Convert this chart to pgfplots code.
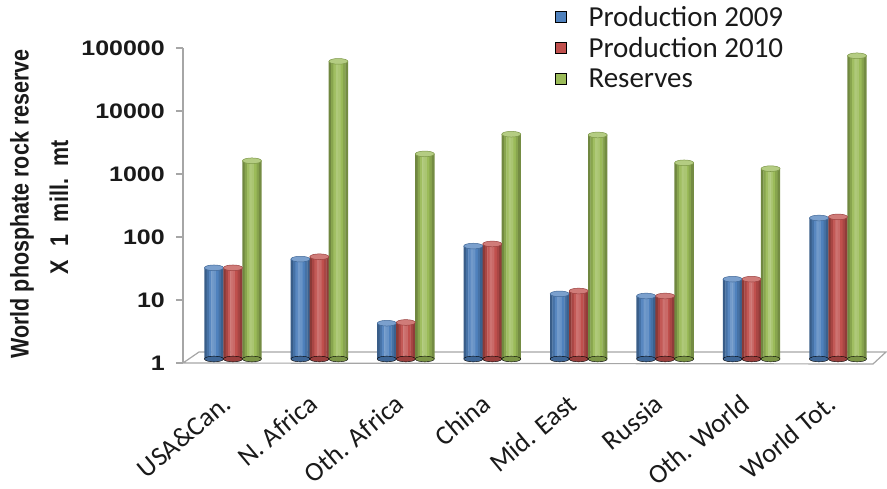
\documentclass[border=0pt]{standalone}
\usepackage{pgfplots}
\pgfplotsset{compat=1.18}
\usepackage{pgfplotstable}
\usepackage{fontspec}
\usepackage{graphicx}
\setmainfont{Carlito}
\newfontfamily\tickfont{Liberation Sans Bold}
\newfontfamily\labfont{Liberation Sans Bold}
\newfontfamily\catfont{Carlito}
\definecolor{cB}{HTML}{4F81BD}
\definecolor{cR}{HTML}{C0504D}
\definecolor{cG}{HTML}{9BBB59}
\definecolor{axgray}{HTML}{A6A6A6}
\definecolor{txt}{HTML}{1A1A1A}
\newcommand{\tk}[1]{\scalebox{1.19}[1]{#1}}
% cylinder strip colours, left to right
\newcommand{\mkstrips}[1]{%
  \colorlet{#11}{#1!72!black}\colorlet{#12}{#1!88!black}%
  \colorlet{#13}{#1!95!white}\colorlet{#14}{#1!80!white}%
  \colorlet{#15}{#1!85!white}\colorlet{#16}{#1}%
  \colorlet{#17}{#1!88!black}\colorlet{#18}{#1!75!black}}
\mkstrips{cB}\mkstrips{cR}\mkstrips{cG}

\pgfplotstableread{
x b9 b10 res
0 28 28 1400
1 38.5 42 53000
2 3.7 3.8 1800
3 62 67 3700
4 10.8 12 3600
5 10 10 1300
6 18.5 18.5 1050
7 173 180 65000
}\data

\begin{document}
\begin{tikzpicture}
\path[use as bounding box] (0,0) rectangle (887pt,489pt);
% floor of the 3-D plot area
\draw[axgray, line width=1.2pt, fill=white] (183pt,126pt) -- (199pt,137pt) -- (886pt,137pt) -- (873pt,125pt) -- cycle;
% y label
\node[rotate=90, font=\labfont\fontsize{21.5}{26}\selectfont, text=txt] at (22pt,285pt) {\scalebox{1}[1.19]{World phosphate rock reserve}};
\node[rotate=90, font=\labfont\fontsize{21.5}{26}\selectfont, text=txt] at (59pt,282pt) {\scalebox{1}[1.19]{X\hspace{0.6em}1\hspace{0.6em}mill.\hspace{0.6em}mt}};
\begin{axis}[
  at={(183pt,126pt)}, anchor=south west,
  scale only axis, width=690pt, height=315pt,
  ymode=log, ymin=1, ymax=100000,
  xmin=-0.578, xmax=7.405,
  enlargelimits=false, clip=false,
  axis lines*=left,
  x axis line style={draw=none},
  y axis line style={axgray, line width=1.2pt},
  tick align=outside,
  major tick length=7pt,
  y tick style={axgray, line width=1.2pt},
  x tick style={draw=none},
  yminorticks=false,
  ytick={1,10,100,1000,10000,100000},
  yticklabels={\tk{1},\tk{10},\tk{100},\tk{1000},\tk{10000},\tk{100000}},
  yticklabel style={font=\tickfont\fontsize{21}{24}\selectfont, text=txt, inner sep=0pt, xshift=-11pt},
  xtick={0,1,2,3,4,5,6,7},
  xticklabels={USA\&Can., N. Africa, Oth. Africa, China, Mid. East, Russia, Oth. World, World Tot.},
  xticklabel style={xshift=-6pt, yshift=-30pt, rotate=40, anchor=east, font=\catfont\fontsize{27}{30}\selectfont, text=txt, inner sep=0pt},
  legend style={at={(0.539,1.137)}, anchor=north west, draw=none, fill=none,
    font=\fontsize{29}{32}\selectfont, text=txt, inner sep=0pt, row sep=8pt,
    nodes={inner sep=1pt},
    /tikz/every odd column/.append style={column sep=21pt}},
  legend cell align=left,
  legend image code/.code={\fill[#1] (0pt,-5pt) rectangle (11pt,6pt);},
]
% Production 2009 (cylinder drawn as eight shaded strips)
\pgfplotsinvokeforeach{1,...,8}{
\addplot[forget plot, ybar, bar width=2.7pt, bar shift=0pt, draw=none, yshift=4pt, fill=cB#1]
  table[x expr=\thisrow{x}-0.22+(#1-4.5)*0.02748, y=b9] {\data};
}
\addplot[forget plot, only marks, mark=*, mark size=9.5pt, yshift=4pt,
  mark options={yscale=0.3, fill=cB!80!black, draw=none}]
  table[x expr=\thisrow{x}-0.22, y expr=1] {\data};
\addplot[forget plot, only marks, mark=*, mark size=9.5pt, yshift=4pt,
  mark options={yscale=0.3, fill=cB!75!white, draw=cB!80!black, line width=0.5pt}]
  table[x expr=\thisrow{x}-0.22, y=b9] {\data};
% Production 2010
\pgfplotsinvokeforeach{1,...,8}{
\addplot[forget plot, ybar, bar width=2.7pt, bar shift=0pt, draw=none, yshift=4pt, fill=cR#1]
  table[x expr=\thisrow{x}+(#1-4.5)*0.02748, y=b10] {\data};
}
\addplot[forget plot, only marks, mark=*, mark size=9.5pt, yshift=4pt,
  mark options={yscale=0.3, fill=cR!80!black, draw=none}]
  table[x expr=\thisrow{x}, y expr=1] {\data};
\addplot[forget plot, only marks, mark=*, mark size=9.5pt, yshift=4pt,
  mark options={yscale=0.3, fill=cR!75!white, draw=cR!80!black, line width=0.5pt}]
  table[x expr=\thisrow{x}, y=b10] {\data};
% Reserves
\pgfplotsinvokeforeach{1,...,8}{
\addplot[forget plot, ybar, bar width=2.7pt, bar shift=0pt, draw=none, yshift=4pt, fill=cG#1]
  table[x expr=\thisrow{x}+0.22+(#1-4.5)*0.02748, y=res] {\data};
}
\addplot[forget plot, only marks, mark=*, mark size=9.5pt, yshift=4pt,
  mark options={yscale=0.3, fill=cG!80!black, draw=none}]
  table[x expr=\thisrow{x}+0.22, y expr=1] {\data};
\addplot[forget plot, only marks, mark=*, mark size=9.5pt, yshift=4pt,
  mark options={yscale=0.3, fill=cG!75!white, draw=cG!80!black, line width=0.5pt}]
  table[x expr=\thisrow{x}+0.22, y=res] {\data};
\addlegendimage{fill=cB}
\addlegendentry{Production 2009}
\addlegendimage{fill=cR}
\addlegendentry{Production 2010}
\addlegendimage{fill=cG}
\addlegendentry{Reserves}
\end{axis}
\end{tikzpicture}
\end{document}
